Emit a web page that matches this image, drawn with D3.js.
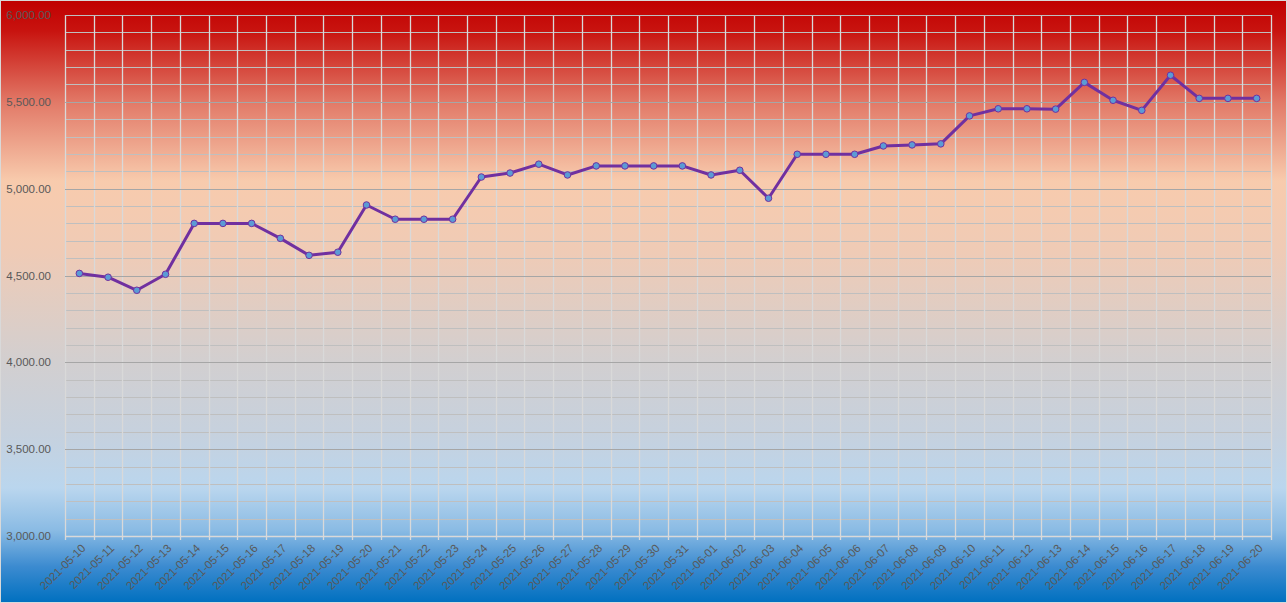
<!DOCTYPE html>
<html><head><meta charset="utf-8">
<script src="https://cdn.jsdelivr.net/npm/d3@7"></script>
<style>html,body{margin:0;padding:0;background:#fff;}svg{display:block;}</style>
</head><body>
<script>
const dates = ["2021-05-10","2021-05-11","2021-05-12","2021-05-13","2021-05-14","2021-05-15","2021-05-16","2021-05-17","2021-05-18","2021-05-19","2021-05-20","2021-05-21","2021-05-22","2021-05-23","2021-05-24","2021-05-25","2021-05-26","2021-05-27","2021-05-28","2021-05-29","2021-05-30","2021-05-31","2021-06-01","2021-06-02","2021-06-03","2021-06-04","2021-06-05","2021-06-06","2021-06-07","2021-06-08","2021-06-09","2021-06-10","2021-06-11","2021-06-12","2021-06-13","2021-06-14","2021-06-15","2021-06-16","2021-06-17","2021-06-18","2021-06-19","2021-06-20"];
const values = [4512,4490,4415,4507,4800,4800,4800,4714,4616,4634,4906,4824,4824,4824,5067,5090,5141,5079,5131,5131,5131,5131,5079,5106,4945,5198,5198,5198,5246,5252,5258,5419,5460,5460,5458,5612,5509,5451,5653,5520,5520,5520];
const yMajorTicks = [3000,3500,4000,4500,5000,5500,6000];
const yMin = 3000, yMax = 6000, yMinorStep = 100;

const W = 1287, H = 603;
const m = {left:65, right:16, top:15, bottom:67};

const svg = d3.select("body").append("svg").attr("width",W).attr("height",H);
const defs = svg.append("defs");
const g = defs.append("linearGradient").attr("id","bg").attr("x1",0).attr("y1",0).attr("x2",0).attr("y2",1);
[[0,"#c00000"],[0.05,"#c8130f"],[0.17,"#e27a68"],[0.3,"#f8cbad"],[0.42,"#efcbb6"],[0.6,"#d2cfd0"],[0.72,"#c6d1de"],[0.81,"#bad6ee"],[0.88,"#8abbe4"],[0.94,"#3c8bd0"],[1,"#0070c0"]]
  .forEach(([o,c])=>g.append("stop").attr("offset",o).attr("stop-color",c));
svg.append("rect").attr("x",0.5).attr("y",0.5).attr("width",W-1).attr("height",H-1)
  .attr("fill","url(#bg)").attr("stroke","#d9d9d9").attr("stroke-width",1);

const x = d3.scaleBand().domain(dates).range([m.left, W-m.right]).paddingInner(0).paddingOuter(0);
const y = d3.scaleLinear().domain([yMin,yMax]).range([H-m.bottom, m.top]);

// minor horizontal gridlines
const minor = d3.range(yMin, yMax+1, yMinorStep).filter(v=>!yMajorTicks.includes(v));
svg.append("g").selectAll("line").data(minor).join("line")
  .attr("x1",m.left).attr("x2",W-m.right)
  .attr("y1",d=>Math.round(y(d))+0.5).attr("y2",d=>Math.round(y(d))+0.5)
  .attr("stroke","#bfbfbf").attr("stroke-width",1);
// vertical gridlines
const bounds = dates.map(d=>x(d)).concat([x(dates[dates.length-1])+x.bandwidth()]);
svg.append("g").selectAll("line").data(bounds).join("line")
  .attr("x1",d=>Math.round(d)+0.5).attr("x2",d=>Math.round(d)+0.5)
  .attr("y1",m.top).attr("y2",H-m.bottom+4)
  .attr("stroke","#d9d9d9").attr("stroke-width",1.3);
// major horizontal gridlines
svg.append("g").selectAll("line").data(yMajorTicks.filter(v=>v!==yMin && v!==yMax)).join("line")
  .attr("x1",m.left).attr("x2",W-m.right)
  .attr("y1",d=>Math.round(y(d))+0.5).attr("y2",d=>Math.round(y(d))+0.5)
  .attr("stroke","#a6a6a6").attr("stroke-width",1.2);
// top line & bottom axis
svg.append("line").attr("x1",m.left).attr("x2",W-m.right).attr("y1",y(yMax)+0.5).attr("y2",y(yMax)+0.5)
  .attr("stroke","#bfbfbf");
svg.append("line").attr("x1",m.left).attr("x2",W-m.right).attr("y1",y(yMin)+0.5).attr("y2",y(yMin)+0.5)
  .attr("stroke","#d9d9d9").attr("stroke-width",1.3);

// y labels
const fmt = d3.format(",.2f");
svg.append("g").selectAll("text").data(yMajorTicks).join("text")
  .attr("x",51).attr("y",d=>y(d)).attr("dy","0.35em")
  .attr("text-anchor","end").attr("font-family","Liberation Sans, Arial, sans-serif")
  .attr("font-size",11.5).attr("fill","#595959").text(d=>fmt(d));

// x labels
svg.append("g").selectAll("text").data(dates).join("text")
  .attr("transform",d=>`translate(${x(d)+x.bandwidth()/2+4},${H-m.bottom+10}) rotate(-45)`)
  .attr("text-anchor","end").attr("dy","0.35em")
  .attr("font-family","Liberation Sans, Arial, sans-serif")
  .attr("font-size",11.5).attr("fill","#595959").text(d=>d);

// line
const line = d3.line().x((d,i)=>x(dates[i])+x.bandwidth()/2).y(d=>y(d));
svg.append("path").datum(values).attr("d",line).attr("fill","none")
  .attr("stroke","#7030a0").attr("stroke-width",3).attr("stroke-linejoin","round");
svg.append("g").selectAll("circle").data(values).join("circle")
  .attr("cx",(d,i)=>x(dates[i])+x.bandwidth()/2).attr("cy",d=>y(d)).attr("r",3.3)
  .attr("fill","#5b9bd5").attr("stroke","#7030a0").attr("stroke-width",1);
</script>
</body></html>
